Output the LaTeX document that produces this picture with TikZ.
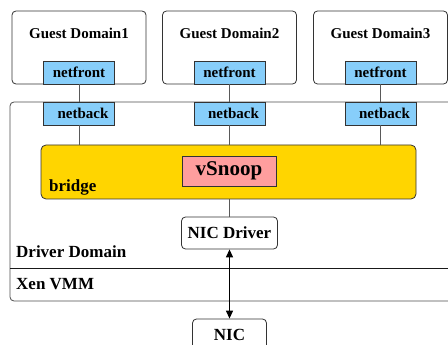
\documentclass[tikz,border=0pt]{standalone}
\usepackage{fontspec}
\setmainfont{Liberation Serif}
\usetikzlibrary{arrows.meta}
\definecolor{netblue}{HTML}{87CEFA}
\definecolor{bridgey}{HTML}{FFD500}
\definecolor{snooppink}{HTML}{FF9E9E}
\tikzset{
  dombox/.style={draw=black!80, rounded corners=4pt, line width=0.8pt, minimum width=134pt, minimum height=73pt, inner sep=0pt},
  netbox/.style={draw=black!80, fill=netblue, line width=0.8pt, minimum width=71pt, minimum height=23pt, inner sep=0pt, font=\fontsize{15}{18}\selectfont\bfseries},
  smalllbl/.style={font=\fontsize{15}{18}\selectfont\bfseries, inner sep=0pt},
  lbl/.style={font=\fontsize{17}{20}\selectfont\bfseries, inner sep=0pt},
  roundbox/.style={draw=black!80, fill=white, rounded corners=4pt, line width=0.8pt, inner sep=0pt, font=\fontsize{17}{20}\selectfont\bfseries},
  conn/.style={draw=black!65, line width=0.8pt},
}
\begin{document}
\begin{tikzpicture}[x=1pt,y=-1pt]
\useasboundingbox (0,0) rectangle (448,345);
\clip (0,0) rectangle (448,345);
% driver domain / Xen VMM outline
\draw[black!70, line width=0.8pt, rounded corners=4pt] (449,102) -- (10,102) -- (10,301) -- (449,301);
\draw[black!90, line width=0.8pt] (10,268) -- (449,268);
% guest domains
\node[dombox] (gd1) at (79,47.5) {};
\node[dombox] (gd2) at (229.5,47.5) {};
\node[dombox] (gd3) at (380.5,47.5) {};
\node[smalllbl, anchor=base] (gd1t) at (79,39) {Guest Domain1};
\node[smalllbl, anchor=base] (gd2t) at (229.5,39) {Guest Domain2};
\node[smalllbl, anchor=base] (gd3t) at (380.5,39) {Guest Domain3};
\node[netbox] (nf1) at (79,72.5) {netfront};
\node[netbox] (nf2) at (229.5,72.5) {netfront};
\node[netbox] (nf3) at (380.5,72.5) {netfront};
\node[netbox] (nb1) at (79,113.5) {\hspace*{8pt}netback};
\node[netbox] (nb2) at (229.5,113.5) {\hspace*{8pt}netback};
\node[netbox] (nb3) at (380.5,113.5) {\hspace*{8pt}netback};
% bridge
\node[draw=black!80, fill=bridgey, rounded corners=5pt, line width=0.8pt, minimum width=375pt, minimum height=54pt, inner sep=0pt] (bridge) at (228.5,172) {};
\node[lbl, anchor=base west] (bridget) at (49,192) {bridge};
\node[draw=black!80, fill=snooppink, line width=0.8pt, minimum width=94pt, minimum height=30pt, inner sep=0pt, font=\fontsize{21}{24}\selectfont\bfseries] (vsnoop) at (229,171) {vSnoop};
% NIC driver and NIC
\node[roundbox, minimum width=96pt, minimum height=32pt] (nicd) at (229.5,233) {NIC Driver};
\node[roundbox, minimum width=74pt, minimum height=32pt] (nic) at (229.5,335) {NIC};
% labels
\node[lbl, anchor=base west] (ddt) at (16,258) {Driver Domain};
\node[lbl, anchor=base west] (xent) at (16,289) {Xen VMM};
% connectors
\draw[conn] (nf1.south) -- (nb1.north);
\draw[conn] (nf2.south) -- (nb2.north);
\draw[conn] (nf3.south) -- (nb3.north);
\draw[conn] (nb1.south) -- (nb1.south |- bridge.north);
\draw[conn] (nb2.south) -- (nb2.south |- bridge.north);
\draw[conn] (nb3.south) -- (nb3.south |- bridge.north);
\draw[conn] (nicd.north |- bridge.south) -- (nicd.north);
\draw[black, line width=1.2pt, {Triangle[length=8pt,width=7pt]}-{Triangle[length=8pt,width=7pt]}] (nicd.south) -- (nic.north);
\end{tikzpicture}
\end{document}
